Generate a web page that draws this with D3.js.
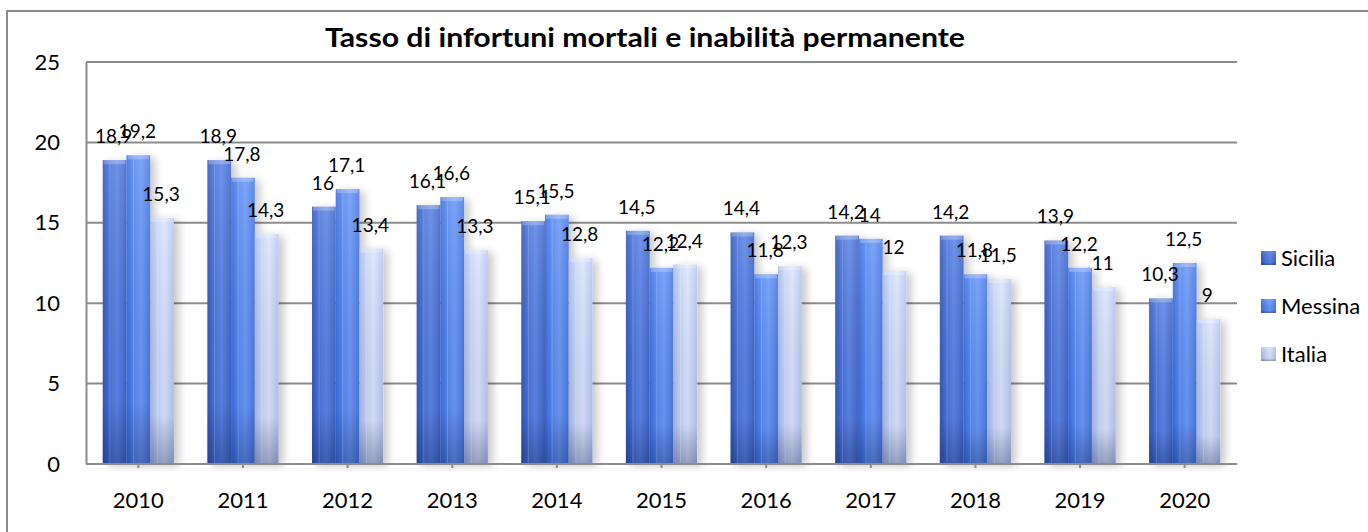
<!DOCTYPE html>
<html><head><meta charset="utf-8">
<script src="https://cdn.jsdelivr.net/npm/d3@7"></script>
<style>html,body{margin:0;padding:0;background:#fff;overflow:hidden}</style>
</head><body>
<svg id="c" width="1368" height="532"></svg>
<script>
const years = ["2010","2011","2012","2013","2014","2015","2016","2017","2018","2019","2020"];
const seriesNames = ["Sicilia","Messina","Italia"];
const sicilia = [18.9,18.9,16,16.1,15.1,14.5,14.4,14.2,14.2,13.9,10.3];
const messina = [19.2,17.8,17.1,16.6,15.5,12.2,11.8,14,11.8,12.2,12.5];
const italia  = [15.3,14.3,13.4,13.3,12.8,12.4,12.3,12,11.5,11,9];
const yTicks = [0,5,10,15,20,25];
const title = "Tasso di infortuni mortali e inabilità permanente";

const values = [sicilia, messina, italia];
const font = "Lato, 'Open Sans', sans-serif";
const svg = d3.select("#c");
const defs = svg.append("defs");

const gdefs = [
  {id:"g0", stops:[["0%","#3258bc"],["30%","#4b74d8"],["60%","#5c85e6"],["100%","#4068c8"]]},
  {id:"g1", stops:[["0%","#3d6cdc"],["30%","#5689f2"],["60%","#6b99f7"],["100%","#4b7ae2"]]},
  {id:"g2", stops:[["0%","#a8b9e9"],["30%","#c9d6f7"],["60%","#dbe5fc"],["100%","#b8c7ef"]]}
];
gdefs.forEach(g => {
  const lg = defs.append("linearGradient").attr("id", g.id).attr("x1","0").attr("x2","1").attr("y1","0").attr("y2","0");
  g.stops.forEach(s => lg.append("stop").attr("offset", s[0]).attr("stop-color", s[1]));
});
const vg = defs.append("linearGradient").attr("id","vshade").attr("x1","0").attr("x2","0").attr("y1","0").attr("y2","1");
vg.append("stop").attr("offset","0%").attr("stop-color","#ffffff").attr("stop-opacity",0.12);
vg.append("stop").attr("offset","80%").attr("stop-color","#000030").attr("stop-opacity",0.05);
vg.append("stop").attr("offset","100%").attr("stop-color","#001040").attr("stop-opacity",0.32);
const flt = defs.append("filter").attr("id","sh").attr("x","-30%").attr("y","-10%").attr("width","180%").attr("height","130%");
flt.append("feGaussianBlur").attr("in","SourceAlpha").attr("stdDeviation",4);
flt.append("feOffset").attr("dx",5).attr("dy",2).attr("result","b");
flt.append("feComponentTransfer").append("feFuncA").attr("type","linear").attr("slope",0.22);
const fm = flt.append("feMerge"); fm.append("feMergeNode"); fm.append("feMergeNode").attr("in","SourceGraphic");

svg.append("rect").attr("x",7).attr("y",11).attr("width",1400).attr("height",600)
  .attr("fill","#fff").attr("stroke","#8c8c8c").attr("stroke-width",2);

const pLeft = 86, pRight = 1237, pTop = 62, pBottom = 464;
const x = d3.scaleBand().domain(years).range([pLeft, pRight]).padding(0);
const groupW = x.bandwidth() * 0.68;
const xs = d3.scaleBand().domain(seriesNames).range([0, groupW]).padding(0);
const y = d3.scaleLinear().domain([0,25]).range([pBottom, pTop]);

svg.append("g").selectAll("line").data(yTicks.filter(t=>t>0)).join("line")
  .attr("x1", pLeft).attr("x2", pRight).attr("y1", d=>y(d)).attr("y2", d=>y(d))
  .attr("stroke","#8c8c8c").attr("stroke-width",2);

const yAxis = d3.axisLeft(y).tickValues(yTicks).tickSize(0).tickPadding(26).tickFormat(d3.format("d"));
const ya = svg.append("g").attr("transform",`translate(${pLeft},0)`).call(yAxis);
ya.select(".domain").attr("stroke","#8c8c8c").attr("stroke-width",2);
ya.selectAll("text").attr("font-family",font).attr("font-size",22).attr("fill","#000");

const gs = svg.append("g").selectAll("g").data(years).join("g")
  .attr("transform", d => `translate(${x(d) + (x.bandwidth()-groupW)/2},0)`);
seriesNames.forEach((s, si) => {
  gs.append("rect")
    .attr("x", xs(s)).attr("width", xs.bandwidth())
    .attr("y", (d,i) => y(values[si][i])).attr("height", (d,i) => y(0) - y(values[si][i]))
    .attr("fill", `url(#g${si})`).attr("filter","url(#sh)");
  gs.append("rect")
    .attr("x", xs(s)).attr("width", xs.bandwidth())
    .attr("y", (d,i) => y(values[si][i])).attr("height", (d,i) => y(0) - y(values[si][i]))
    .attr("fill", "url(#vshade)");
  gs.append("rect")
    .attr("x", xs(s)+1).attr("width", xs.bandwidth()-2)
    .attr("y", (d,i) => y(values[si][i])).attr("height", 4)
    .attr("fill", "#ffffff").attr("opacity",0.25);
  gs.append("line")
    .attr("x1", xs(s)+xs.bandwidth()*0.3).attr("x2", xs(s)+xs.bandwidth()*0.3)
    .attr("y1", (d,i) => y(values[si][i])+4).attr("y2", y(0))
    .attr("stroke","#ffffff").attr("stroke-opacity",0.18).attr("stroke-width",1);
});

const xAxis = d3.axisBottom(x).tickSize(4).tickPadding(24);
const xa = svg.append("g").attr("transform",`translate(0,${pBottom})`).call(xAxis);
xa.select(".domain").attr("stroke","#8c8c8c").attr("stroke-width",2).attr("d",`M${pLeft},0H${pRight}`);
xa.selectAll(".tick line").attr("stroke","#8c8c8c").attr("stroke-width",2);
xa.selectAll("text").attr("font-family",font).attr("font-size",22).attr("fill","#000");

const fmt = v => String(v).replace(".", ",");
seriesNames.forEach((s, si) => {
  gs.append("text")
    .attr("x", xs(s) + xs.bandwidth()/2 - 1)
    .attr("y", (d,i) => y(values[si][i]) - 17)
    .attr("text-anchor","middle")
    .attr("font-family",font).attr("font-size",19).attr("fill","#000")
    .text((d,i) => fmt(values[si][i]));
});

svg.append("text").attr("x",645).attr("y",47).attr("text-anchor","middle")
  .attr("font-family",font).attr("font-weight","bold").attr("font-size",27)
  .attr("textLength",640).attr("lengthAdjust","spacingAndGlyphs")
  .text(title);

const legY = [258, 306, 354];
const lg = svg.append("g").selectAll("g").data(seriesNames).join("g")
  .attr("transform",(d,i)=>`translate(1261,${legY[i]})`);
lg.append("rect").attr("x",0).attr("y",-7).attr("width",15).attr("height",14)
  .attr("fill",(d,i)=>`url(#g${i})`);
lg.append("rect").attr("x",0).attr("y",-7).attr("width",15).attr("height",14).attr("fill","url(#vshade)");
lg.append("text").attr("x",20).attr("y",8).attr("font-family",font).attr("font-size",22).attr("fill","#000").text(d=>d);
</script>
</body></html>
